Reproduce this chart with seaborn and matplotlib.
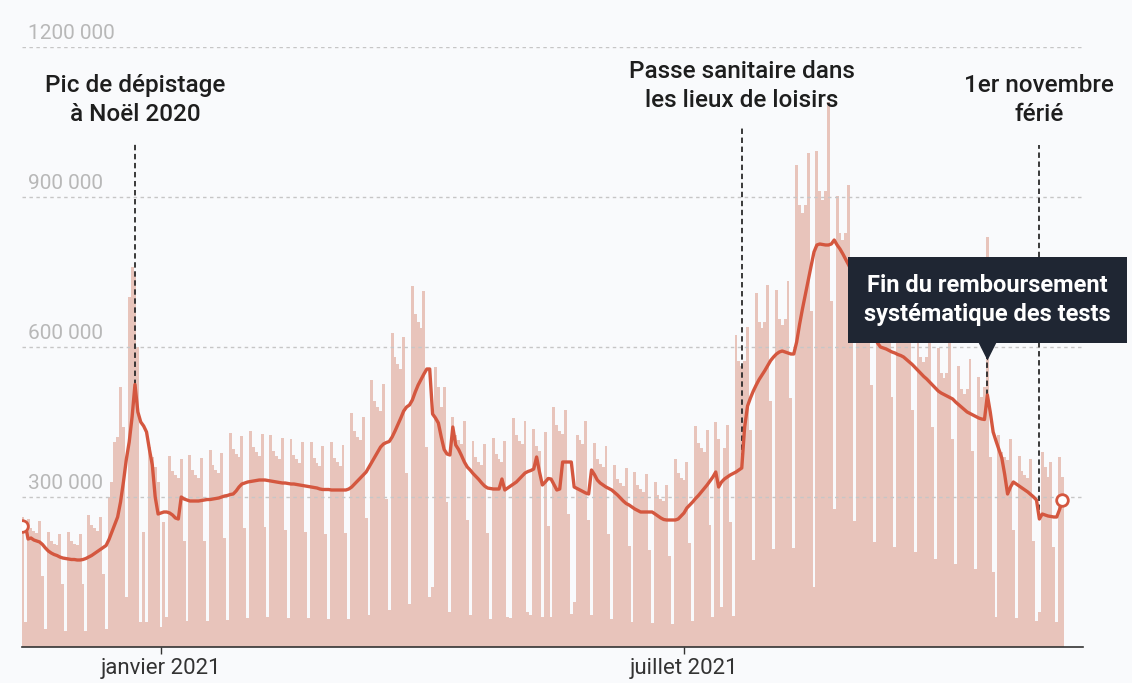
import matplotlib
matplotlib.use("Agg")
import matplotlib.dates as mdates
import matplotlib.pyplot as plt
import numpy as np
import pandas as pd
import seaborn as sns

START = "2020-11-14"

# daily tests, in thousands (Sat 14 & Sun 15 Nov, then one row per week Mon..Sun)
tests_k = [
    260, 50,
    257, 238, 232, 228, 253, 143, 36,
    230, 212, 207, 204, 227, 127, 32,
    230, 212, 207, 204, 227, 127, 32,
    264, 244, 238, 233, 260, 146, 37,
    300, 330, 410, 420, 520, 440, 100,
    700, 760, 750, 600, 50, 230, 50,
    400, 380, 360, 330, 40, 250, 60,
    382, 353, 344, 338, 376, 212, 53,
    384, 354, 345, 339, 378, 212, 53,
    394, 364, 355, 348, 388, 218, 55,
    429, 396, 386, 380, 422, 238, 59,
    433, 400, 390, 383, 426, 240, 60,
    425, 392, 383, 376, 419, 235, 59,
    417, 385, 376, 369, 411, 231, 58,
    410, 378, 369, 362, 403, 227, 57,
    411, 379, 370, 363, 404, 228, 57,
    468, 432, 421, 414, 461, 259, 65,
    534, 493, 481, 473, 526, 296, 74,
    629, 581, 566, 557, 620, 348, 87,
    723, 667, 651, 639, 712, 400, 100,
    120, 560, 520, 480, 520, 290, 70,
    460, 425, 414, 407, 453, 255, 64,
    412, 380, 371, 365, 406, 228, 57,
    419, 386, 377, 370, 412, 60, 58,
    459, 424, 413, 406, 452, 70, 64,
    437, 403, 393, 60, 430, 242, 60,
    481, 444, 433, 426, 474, 266, 67,
    90, 425, 414, 407, 453, 255, 64,
    408, 377, 367, 361, 402, 226, 57,
    364, 336, 328, 322, 358, 202, 50,
    351, 324, 316, 311, 346, 194, 49,
    330, 305, 297, 292, 325, 183, 46,
    377, 348, 339, 334, 371, 209, 52,
    442, 408, 398, 391, 435, 245, 61,
    451, 416, 80, 399, 444, 250, 62,
    625, 573, 563, 573, 640, 435, 174,
    708, 650, 638, 650, 725, 493, 197,
    715, 656, 645, 656, 733, 498, 199,
    964, 885, 869, 885, 988, 672, 120,
    993, 912, 895, 912, 1090, 692, 277,
    903, 829, 814, 829, 925, 629, 252,
    754, 692, 680, 692, 773, 525, 210,
    717, 659, 647, 659, 735, 500, 200,
    682, 626, 615, 626, 699, 475, 190,
    632, 580, 570, 580, 648, 440, 176,
    598, 549, 539, 549, 613, 417, 167,
    562, 516, 507, 516, 576, 392, 157,
    540, 500, 520, 820, 380, 150, 60,
    424, 391, 381, 375, 417, 235, 59,
    382, 353, 344, 338, 376, 212, 53,
    70, 390, 360, 340, 370, 200, 50,
    380, 340,
]

# 7-day average, in thousands, same days
avg7_k = [
    242, 246,
    216, 218, 214, 212, 210, 205, 198,
    192, 188, 185, 183, 180, 178, 177,
    176, 175, 175, 174, 174, 175, 177,
    180, 183, 187, 191, 195, 199, 203,
    215, 230, 245, 260, 290, 330, 375,
    410, 460, 525, 470, 450, 442, 430,
    395, 364, 300, 266, 268, 270, 270,
    268, 264, 258, 256, 300, 296, 294,
    292, 292, 292, 292, 293, 294, 295,
    295, 296, 297, 298, 300, 302, 303,
    305, 306, 312, 320, 326, 328, 330,
    331, 332, 333, 334, 334, 334, 333,
    332, 331, 330, 329, 328, 328, 327,
    326, 326, 325, 324, 323, 322, 321,
    320, 319, 318, 316, 315, 315, 315,
    314, 314, 314, 314, 314, 314, 316,
    320, 326, 332, 338, 344, 350, 360,
    370, 380, 390, 400, 406, 409, 411,
    420, 432, 445, 458, 472, 480, 484,
    494, 510, 524, 535, 546, 556, 556,
    466, 458, 448, 420, 395, 386, 384,
    440, 404, 395, 383, 370, 360, 354,
    347, 341, 335, 328, 322, 318, 317,
    316, 316, 316, 336, 314, 318, 322,
    326, 330, 336, 342, 348, 351, 353,
    356, 380, 350, 324, 330, 337, 336,
    325, 314, 316, 370, 370, 370, 370,
    320, 317, 314, 311, 308, 306, 354,
    345, 334, 328, 324, 320, 317, 314,
    309, 304, 298, 292, 287, 284, 280,
    276, 273, 270, 270, 270, 270, 270,
    266, 262, 258, 255, 254, 254, 254,
    254, 256, 262, 268, 278, 284, 290,
    297, 303, 310, 317, 324, 332, 340,
    350, 320, 330, 336, 340, 344, 347,
    350, 354, 358, 440, 482, 498, 512,
    524, 535, 544, 553, 563, 573, 580,
    586, 590, 592, 590, 588, 586, 586,
    610, 645, 676, 705, 735, 762, 790,
    804, 806, 805, 804, 804, 806, 814,
    804, 796, 786, 775, 764, 752, 740,
    720, 700, 680, 660, 645, 630, 618,
    608, 600, 598, 596, 593, 590, 588,
    585, 583, 580, 575, 570, 565, 559,
    553, 547, 541, 536, 530, 524, 518,
    512, 508, 505, 502, 499, 496, 490,
    485, 480, 475, 470, 467, 464, 461,
    458, 456, 455, 504, 470, 430, 412,
    395, 378, 345, 306, 320, 330, 326,
    322, 318, 314, 310, 305, 300, 294,
    256, 266, 264, 262, 261, 260, 260,
    275, 294,
]

x_tick_dates = ["2021-01-01", "2021-07-01"]
x_tick_labels = ["janvier 2021", "juillet 2021"]
y_ticks = [300_000, 600_000, 900_000, 1_200_000]
y_tick_labels = ["300 000", "600 000", "900 000", "1200 000"]

event_dates = ["2020-12-23", "2021-07-21", "2021-11-01"]
event_labels = ["Pic de dépistage\nà Noël 2020",
                "Passe sanitaire dans\nles lieux de loisirs",
                "1er novembre\nférié"]
box_date = "2021-10-14"
box_label = "Fin du remboursement\nsystématique des tests"

BG = "#f9fafc"
BAR = "#e8c4bb"
LINE = "#d4573f"
INK = "#1e1e1e"


def main() -> None:
    dates = pd.date_range(START, periods=len(tests_k), freq="D")
    df = pd.DataFrame({
        "x": mdates.date2num(dates),
        "tests": np.array(tests_k) * 1000,
        "avg": np.array(avg7_k) * 1000,
    })

    sns.set_theme(style="white")
    plt.rcParams["font.family"] = ["Roboto", "DejaVu Sans"]

    fig = plt.figure(figsize=(11.32, 6.83), dpi=100)
    fig.patch.set_facecolor(BG)
    ax = fig.add_axes([22 / 1132, 36 / 683, 1061 / 1132, 600 / 683])
    ax.set_facecolor(BG)

    sns.barplot(data=df, x="x", y="tests", native_scale=True, width=1.0,
                color=BAR, saturation=1, errorbar=None, linewidth=0,
                ax=ax, zorder=1)

    for v, lab in zip(y_ticks, y_tick_labels):
        ax.axhline(v, color="#c6c6c6", lw=1, ls=(0, (2.5, 2.5)), zorder=2)
        ax.annotate(lab, xy=(0, v), xycoords=("axes fraction", "data"),
                    xytext=(4, 3), textcoords="offset points",
                    ha="left", va="bottom", fontsize=15, color="#b8b8b8",
                    zorder=6)

    sns.lineplot(data=df, x="x", y="avg", color=LINE, lw=2.4, ax=ax, zorder=4)
    sns.scatterplot(data=df.iloc[[0, -1]], x="x", y="avg", s=70, color="white",
                    edgecolor=LINE, linewidth=2, ax=ax, zorder=5)

    # event annotations: dashed line from the curve up to the label
    tops = [1_008_000, 1_044_000, 1_004_000]
    text_y = [1_094_000, 1_122_000, 1_094_000]
    for d, lab, top, ty in zip(event_dates, event_labels, tops, text_y):
        xd = mdates.date2num(pd.Timestamp(d))
        yv = df.loc[df["x"] == xd, "avg"].iloc[0]
        ax.plot([xd, xd], [yv, top], color="#2a2a2a", lw=1.3,
                ls=(0, (3, 2)), zorder=3)
        ax.text(xd, ty, lab, ha="center", va="center", fontsize=17.5,
                color=INK, fontweight="medium", linespacing=1.3, zorder=6)

    xb = mdates.date2num(pd.Timestamp(box_date))
    yb = df.loc[df["x"] == xb, "avg"].iloc[0]
    ax.plot([xb, xb], [yb, 590_000], color="#2a2a2a", lw=1.3,
            ls=(0, (3, 2)), zorder=3)
    ax.plot([xb], [594_000], marker="v", ms=14, color="#1f2633",
            mec="none", zorder=7)
    ax.text(xb, 694_000, box_label, ha="center", va="center", fontsize=17,
            color="white", fontweight="bold", linespacing=1.35, zorder=8,
            bbox=dict(boxstyle="square,pad=0.7", fc="#1f2633", ec="none"))

    x0 = df["x"].iloc[0]
    ax.set_xlim(x0 - 0.1, x0 + 367.1)
    ax.set_ylim(0, 1_200_000)
    ax.set_xticks(mdates.date2num(pd.to_datetime(x_tick_dates)))
    ax.set_xticklabels(x_tick_labels)
    ax.set_yticks([])
    ax.set_xlabel("")
    ax.set_ylabel("")
    ax.tick_params(axis="x", length=5, width=1, color="#333333",
                   labelsize=16, labelcolor="#333333", pad=3, bottom=True)
    for side in ["left", "right", "top"]:
        ax.spines[side].set_visible(False)
    ax.spines["bottom"].set_color("#333333")
    ax.spines["bottom"].set_linewidth(1.2)

    fig.savefig("out.png", dpi=100, facecolor=BG)
    plt.close(fig)


if __name__ == "__main__":
    main()
